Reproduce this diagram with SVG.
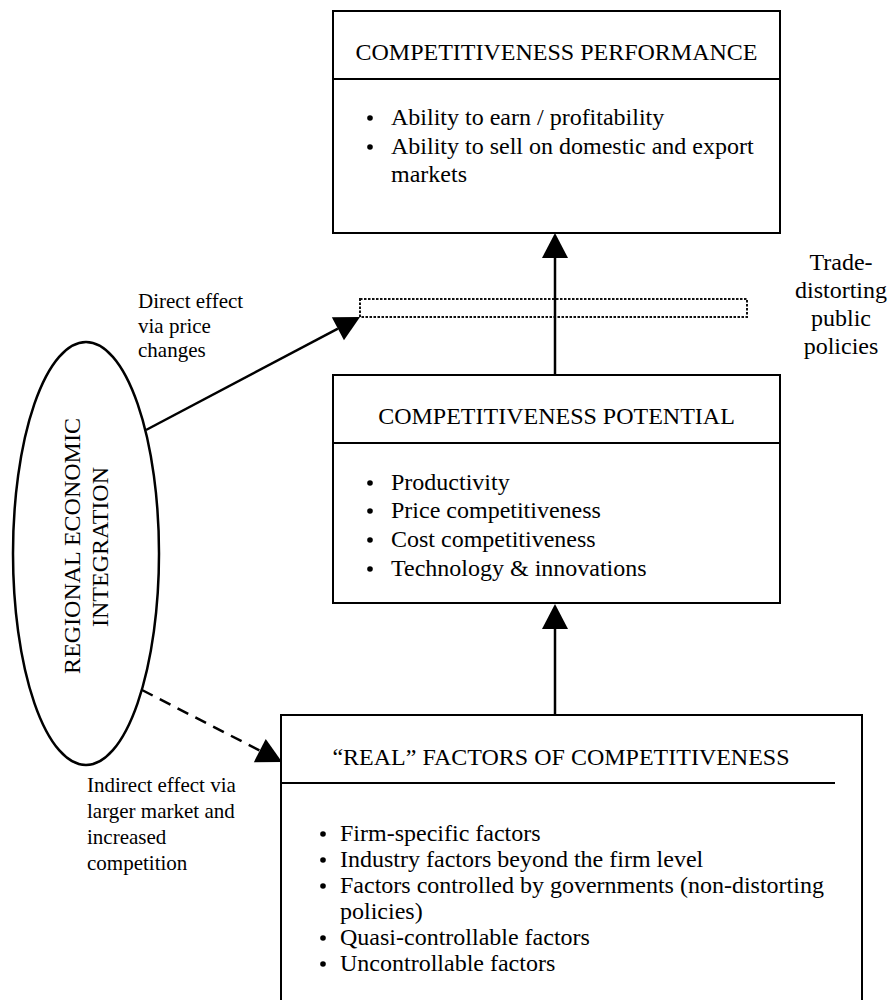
<svg xmlns="http://www.w3.org/2000/svg" width="893" height="1000" viewBox="0 0 893 1000">
  <style>
    text { font-family: "Liberation Serif", "Times New Roman", serif; fill: #000; }
    .title { font-size: 24px; text-anchor: middle; }
    .item { font-size: 24px; }
    .side { font-size: 24px; text-anchor: middle; }
    .note { font-size: 21px; }
    .box { fill: #fff; stroke: #000; stroke-width: 2; }
    .rule { stroke: #000; stroke-width: 2; }
    .dot { fill: #000; }
    .link { fill: none; stroke: #000; stroke-width: 2.5; }
    .dashed { stroke-dasharray: 12 8; }
    .policy { fill: none; stroke: #111; stroke-width: 2; stroke-dasharray: 2.5 1.5; }
  </style>
  <defs>
    <marker id="head" markerUnits="userSpaceOnUse" markerWidth="26" markerHeight="26" refX="0" refY="13" orient="auto" overflow="visible">
      <path d="M0,0 L25,13 L0,26 Z" fill="#000"/>
    </marker>
  </defs>

  <rect width="893" height="1000" fill="#fff"/>

  <!-- Competitiveness performance -->
  <g id="performance">
    <rect class="box" x="333" y="11" width="447" height="222"/>
    <line class="rule" x1="333" y1="79" x2="780" y2="79"/>
    <text class="title" x="556.5" y="60">COMPETITIVENESS PERFORMANCE</text>
    <circle class="dot" cx="370" cy="118" r="2.8"/>
    <text class="item" x="391" y="125">Ability to earn / profitability</text>
    <circle class="dot" cx="370" cy="147" r="2.8"/>
    <text class="item" x="391" y="154">Ability to sell on domestic and export</text>
    <text class="item" x="391" y="182">markets</text>
  </g>

  <!-- Trade-distorting public policies -->
  <g id="policies">
    <rect class="policy" x="360" y="299" width="387" height="18"/>
    <text class="side" x="841" y="270">Trade-</text>
    <text class="side" x="841" y="298">distorting</text>
    <text class="side" x="841" y="326">public</text>
    <text class="side" x="841" y="354">policies</text>
  </g>

  <!-- Competitiveness potential -->
  <g id="potential">
    <rect class="box" x="333" y="375" width="447" height="228"/>
    <line class="rule" x1="333" y1="443" x2="780" y2="443"/>
    <text class="title" x="556.5" y="424">COMPETITIVENESS POTENTIAL</text>
    <circle class="dot" cx="370" cy="483" r="2.8"/>
    <text class="item" x="391" y="490">Productivity</text>
    <circle class="dot" cx="370" cy="511" r="2.8"/>
    <text class="item" x="391" y="518">Price competitiveness</text>
    <circle class="dot" cx="370" cy="540" r="2.8"/>
    <text class="item" x="391" y="547">Cost competitiveness</text>
    <circle class="dot" cx="370" cy="569" r="2.8"/>
    <text class="item" x="391" y="576">Technology &amp; innovations</text>
  </g>

  <!-- Real factors of competitiveness -->
  <g id="real-factors">
    <rect class="box" x="281" y="715" width="581" height="300"/>
    <line class="rule" x1="281" y1="783" x2="835" y2="783"/>
    <text class="title" x="561" y="765">“REAL” FACTORS OF COMPETITIVENESS</text>
    <circle class="dot" cx="323" cy="834" r="2.8"/>
    <text class="item" x="340" y="841">Firm-specific factors</text>
    <circle class="dot" cx="323" cy="860" r="2.8"/>
    <text class="item" x="340" y="867">Industry factors beyond the firm level</text>
    <circle class="dot" cx="323" cy="886" r="2.8"/>
    <text class="item" x="340" y="893">Factors controlled by governments (non-distorting</text>
    <text class="item" x="340" y="919">policies)</text>
    <circle class="dot" cx="323" cy="938" r="2.8"/>
    <text class="item" x="340" y="945">Quasi-controllable factors</text>
    <circle class="dot" cx="323" cy="964" r="2.8"/>
    <text class="item" x="340" y="971">Uncontrollable factors</text>
  </g>

  <!-- Regional economic integration -->
  <g id="integration">
    <ellipse cx="86" cy="553.5" rx="73" ry="211.5" fill="#fff" stroke="#000" stroke-width="2.5"/>
    <text class="side" transform="translate(80,546) rotate(-90)">REGIONAL ECONOMIC</text>
    <text class="side" transform="translate(108,547) rotate(-90)">INTEGRATION</text>
  </g>

  <!-- Effect labels -->
  <g id="labels">
    <text class="note" x="138" y="308">Direct effect</text>
    <text class="note" x="138" y="333">via price</text>
    <text class="note" x="138" y="357">changes</text>
    <text class="note" x="87" y="792">Indirect effect via</text>
    <text class="note" x="87" y="818">larger market and</text>
    <text class="note" x="87" y="844">increased</text>
    <text class="note" x="87" y="870">competition</text>
  </g>

  <!-- Connectors -->
  <g id="connectors">
    <path class="link" d="M555,375 L555,258" marker-end="url(#head)"/>
    <path class="link" d="M555,715 L555,629" marker-end="url(#head)"/>
    <path class="link" d="M146,430 L337.9,328.65" marker-end="url(#head)"/>
    <path class="link dashed" d="M142,690 L259.8,750.6" marker-end="url(#head)"/>
  </g>
</svg>
